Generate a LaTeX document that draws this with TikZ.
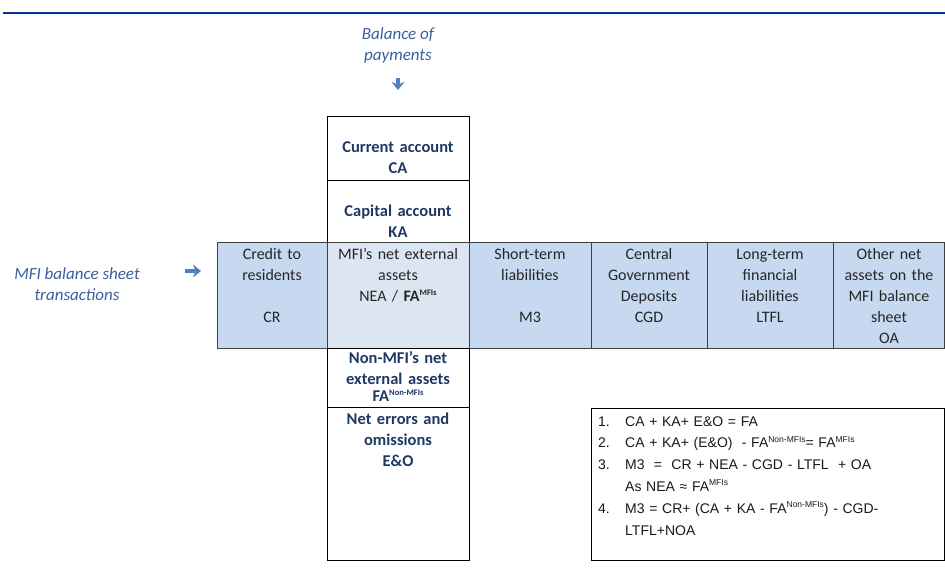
\documentclass[tikz,border=0pt]{standalone}
\usepackage{fontspec}
\setmainfont{Carlito}
\newfontfamily\eqfont{Liberation Sans}
\usetikzlibrary{arrows.meta}
\definecolor{rulebl}{HTML}{003399}
\definecolor{labelbl}{HTML}{3A5F9E}
\definecolor{arrowbl}{HTML}{4F81BD}
\definecolor{cellfill}{HTML}{C6D9F0}
\definecolor{midfill}{HTML}{DCE6F2}
\definecolor{navy}{HTML}{1F3864}
\definecolor{celltext}{HTML}{262626}
\newcommand{\supx}[1]{\raisebox{0.75ex}{\fontsize{8.5}{8.5}\selectfont #1}}
\tikzset{
  cell/.style={draw=black!75, line width=0.9pt, fill=cellfill},
  midcell/.style={draw=black!75, line width=0.9pt, fill=midfill},
  plainbox/.style={draw=black, line width=0.9pt},
  celltxt/.style={anchor=base, inner sep=0pt, align=center, text width=118pt,
    text=celltext, font=\fontsize{16}{21}\selectfont},
  coltxt/.style={anchor=base, inner sep=0pt, align=center, text width=140pt,
    text=navy, font=\bfseries\fontsize{16.5}{21}\selectfont},
  sidelabel/.style={inner sep=0pt, align=center, text=labelbl,
    font=\itshape\fontsize{17}{21}\selectfont},
  pointer/.style={draw=arrowbl, line width=3.2pt,
    -{Stealth[length=8pt,width=13pt,inset=2.5pt]}},
}
\begin{document}
\begin{tikzpicture}[x=1pt,y=-1pt]
\useasboundingbox (0,0) rectangle (945,579);
% header rule
\draw[rulebl, line width=2.6pt] (3,13) -- (945,13);

% row of balance sheet cells
\path[cell] (217,242) rectangle (327,348);
\path[midcell] (327,242) rectangle (469,348);
\path[cell] (469,242) rectangle (591,348);
\path[cell] (591,242) rectangle (707,348);
\path[cell] (707,242) rectangle (833,348);
\path[cell] (833,242) rectangle (944,348);

% vertical column of balance of payments items
\path[plainbox] (327,116) rectangle (469,180);
\path[plainbox] (327,180) -- (327,242) (469,180) -- (469,242);
\path[plainbox] (327,348) rectangle (469,407);
\path[plainbox] (327,407) rectangle (469,560);

% equations box
\path[plainbox] (591,408) rectangle (944,560);

% side labels and pointers
\node[sidelabel] (bop) at (398,45) {Balance of\\payments};
\coordinate (bopA) at (398,78);
\coordinate (bopB) at (398,90);
\draw[pointer] (bopA) -- (bopB);
\node[sidelabel] (mfi) at (77,284) {MFI balance sheet\\transactions};
\coordinate (mfiA) at (185,271);
\coordinate (mfiB) at (201,271);
\draw[pointer] (mfiA) -- (mfiB);

% column texts
\node[coltxt] (ca) at (398,152) {Current account\\CA};
\node[coltxt] (ka) at (398,216) {Capital account\\KA};
\node[coltxt] (nonmfi) at (398,363) {Non-MFI’s net\\external assets\\[-4pt]FA\supx{Non-MFIs}};
\node[coltxt] (eo) at (398,424) {Net errors and\\omissions\\E\&O};

% row texts
\node[celltxt] (cr) at (272,259) {Credit to\\residents\\[21pt]CR};
\node[celltxt, text width=138pt] (nea) at (398,259) {MFI’s net external\\assets\\NEA / \textbf{FA}\supx{\bfseries MFIs}};
\node[celltxt] (m3) at (530,259) {Short-term\\liabilities\\[21pt]M3};
\node[celltxt] (cgd) at (649,259) {Central\\Government\\Deposits\\CGD};
\node[celltxt] (ltfl) at (770,259) {Long-term\\financial\\liabilities\\LTFL};
\node[celltxt] (oa) at (889,259) {Other net\\assets on the\\MFI balance\\sheet\\OA};

% identities
\node[anchor=base west, inner sep=0pt, align=left, text width=340pt, text=black!90,
  font=\eqfont\fontsize{14}{21.8}\selectfont] (eqs) at (598,426)
{\makebox[27pt][l]{1.}CA + KA+ E\&O = FA\\
 \makebox[27pt][l]{2.}CA + KA+ (E\&O)\ \ - FA\supx{Non-MFIs}= FA\supx{MFIs}\\
 \makebox[27pt][l]{3.}M3\ \ =\ \ CR + NEA - CGD - LTFL\ \ + OA\\
 \hspace*{27pt}As NEA ≈ FA\supx{MFIs}\\
 \makebox[27pt][l]{4.}M3 = CR+ (CA + KA - FA\supx{Non-MFIs}) - CGD-\\
 \hspace*{27pt}LTFL+NOA};
\end{tikzpicture}
\end{document}
